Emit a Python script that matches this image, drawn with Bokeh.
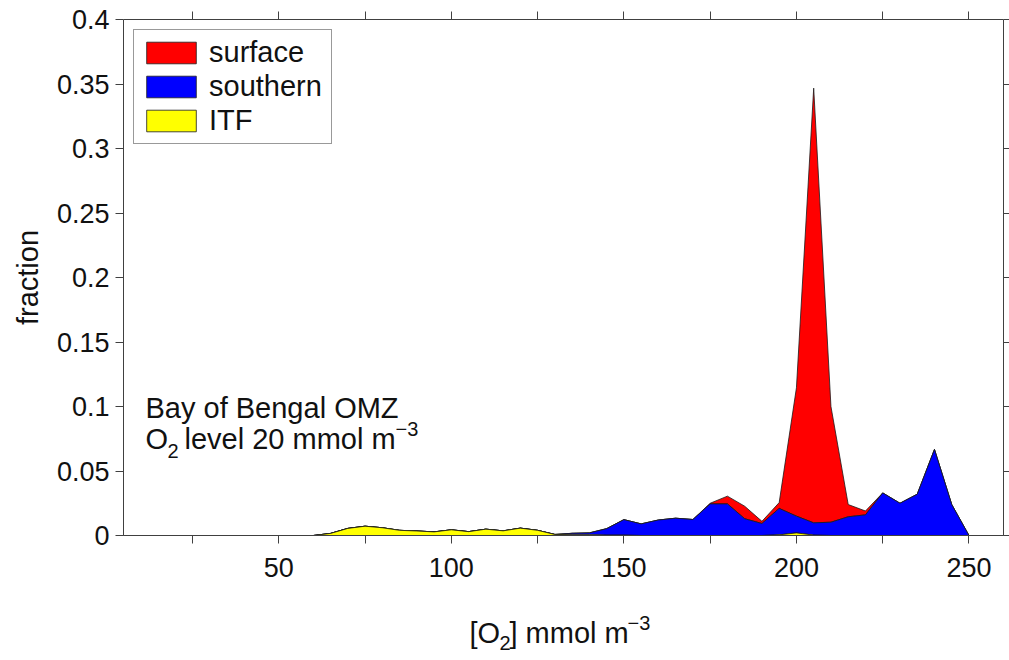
import numpy as np
from bokeh.plotting import figure
from bokeh.layouts import column
from bokeh.models import (Range1d, FixedTicker, LinearAxis, Legend, LegendItem, Label)
from bokeh.core.properties import value
from bokeh.embed import file_html
from bokeh.resources import INLINE

# ---------------- data ----------------
o2_bins = [5, 10, 15, 20, 25, 30, 35, 40, 45, 50, 55, 60, 65, 70, 75, 80, 85, 90,
           95, 100, 105, 110, 115, 120, 125, 130, 135, 140, 145, 150, 155, 160,
           165, 170, 175, 180, 185, 190, 195, 200, 205, 210, 215, 220, 225, 230,
           235, 240, 245, 250, 255, 260]

itf = [0, 0, 0, 0, 0, 0, 0, 0, 0, 0, 0, 0,
       0.0016, 0.0055, 0.0072, 0.006, 0.004, 0.0035, 0.0028, 0.0044, 0.003,
       0.0049, 0.0036, 0.0057, 0.004, 0.0008, 0.0005, 0.0005, 0.0003, 0.0003,
       0, 0, 0, 0, 0, 0, 0, 0,
       0.0005, 0.002, 0.0003,
       0, 0, 0, 0, 0, 0, 0, 0, 0, 0, 0]

southern = [0] * 25 + [
    0, 0.0012, 0.0015, 0.005, 0.012, 0.009, 0.012, 0.0134, 0.0124, 0.0245,
    0.0245, 0.013, 0.0093, 0.0205, 0.013, 0.0095, 0.0103, 0.0145, 0.016,
    0.033, 0.025, 0.032, 0.0667, 0.024, 0, 0, 0]

surface = [0] * 34 + [
    0.0005, 0.006, 0.0097, 0.0017, 0.0045, 0.0995, 0.337, 0.0897, 0.0095,
    0.003, 0, 0, 0, 0, 0, 0, 0, 0]

series_names = ["surface", "southern", "ITF"]
series_colors = ["#ff0000", "#0000ff", "#ffff00"]

x_ticks = [25, 50, 75, 100, 125, 150, 175, 200, 225, 250]
x_tick_labels = ["", "50", "", "100", "", "150", "", "200", "", "250"]
y_ticks = [0, 0.05, 0.1, 0.15, 0.2, 0.25, 0.3, 0.35, 0.4]
y_tick_labels = ["0", "0.05", "0.1", "0.15", "0.2", "0.25", "0.3", "0.35", "0.4"]

FONT = "Liberation Sans"
AX_COLOR = "#404040"
TXT = "#111111"

X0, X1 = 5, 260
FRAME_L, FRAME_R = 123, 1003

# ---------------- main figure ----------------
MAIN_H = 590
p = figure(width=1009, height=MAIN_H, output_backend="svg", toolbar_location=None,
           x_range=Range1d(X0, X1), y_range=Range1d(0, 0.4),
           min_border_left=FRAME_L, min_border_right=1009 - FRAME_R, min_border_top=19,
           min_border_bottom=MAIN_H - 535, background_fill_color="white",
           border_fill_color="white")
p.grid.visible = False
p.outline_line_color = None

# stacked areas
x = np.array(o2_bins, dtype=float)
lvl0 = np.zeros(len(x))
lvl1 = lvl0 + np.array(itf)
lvl2 = lvl1 + np.array(southern)
lvl3 = lvl2 + np.array(surface)

def poly(lower, upper):
    xs = np.concatenate([x, x[::-1]])
    ys = np.concatenate([upper, lower[::-1]])
    return xs, ys

renderers = {}
for name, color, lo, hi in [("surface", series_colors[0], lvl2, lvl3),
                            ("southern", series_colors[1], lvl1, lvl2),
                            ("ITF", series_colors[2], lvl0, lvl1)]:
    xs, ys = poly(lo, hi)
    renderers[name] = p.patch(xs, ys, fill_color=color, line_color="#1a1a1a",
                              line_width=0.8)

# axes
def style_axis(ax, ticks, overrides, show_labels):
    ax.ticker = FixedTicker(ticks=ticks)
    ax.major_label_overrides = overrides
    ax.minor_tick_line_color = None
    ax.major_tick_in = 0
    ax.major_tick_out = 8
    ax.axis_line_color = AX_COLOR
    ax.major_tick_line_color = AX_COLOR
    ax.major_label_text_font = FONT
    ax.major_label_text_font_size = "27px" if show_labels else "0px"
    ax.major_label_text_color = TXT
    if not show_labels:
        ax.major_label_standoff = 0
        ax.axis_label_standoff = 0

xo = {t: l for t, l in zip(x_ticks, x_tick_labels)}
yo = {t: l for t, l in zip(y_ticks, y_tick_labels)}
style_axis(p.xaxis[0], x_ticks, xo, True)
style_axis(p.yaxis[0], y_ticks, yo, True)
p.xaxis[0].major_label_standoff = 14
p.yaxis[0].major_label_standoff = 6
p.yaxis[0].axis_label = "fraction"
p.yaxis[0].axis_label_text_font = FONT
p.yaxis[0].axis_label_text_font_size = "29px"
p.yaxis[0].axis_label_text_font_style = "normal"
p.yaxis[0].axis_label_text_color = TXT
p.yaxis[0].axis_label_standoff = 10

top_ax = LinearAxis()
style_axis(top_ax, x_ticks, {t: "" for t in x_ticks}, False)
p.add_layout(top_ax, "above")
right_ax = LinearAxis()
style_axis(right_ax, y_ticks, {t: "" for t in y_ticks}, False)
right_ax.major_tick_out = 6
p.add_layout(right_ax, "right")

# legend
legend = Legend(items=[LegendItem(label=n, renderers=[renderers[n]]) for n in series_names],
                location="top_left", margin=10, padding=6, spacing=1,
                glyph_width=62, glyph_height=27, label_height=27, label_width=116,
                label_standoff=7, label_text_font=FONT, label_text_font_size="29px",
                label_text_color=TXT, border_line_color="#333333",
                border_line_width=1, background_fill_alpha=1.0)
p.add_layout(legend)

# pixel -> data helpers (frame spans FRAME_L..FRAME_R, y 19..535)
def px2x(px):
    return X0 + (px - FRAME_L) * (X1 - X0) / (FRAME_R - FRAME_L)

def py2y(py):
    return (535 - py) / 1290.0

def lab(text, px, py, size="29px"):
    p.add_layout(Label(x=px2x(px), y=py2y(py), text=text, text_font=FONT,
                       text_font_size=size, text_color=TXT,
                       text_baseline="alphabetic", text_align="left"))

lab("Bay of Bengal OMZ", 145, 407)
lab("O", 145, 438)
lab("2", 167, 450, "20px")
lab("level 20 mmol m", 184, 438)
lab("\u22123", 395, 428, "20px")

# ---------------- x-axis title strip (frame aligned with main plot) ----------------
STRIP_H = 660 - MAIN_H
q = figure(width=1009, height=STRIP_H, output_backend="svg", toolbar_location=None,
           x_range=Range1d(X0, X1), y_range=Range1d(STRIP_H, 0),
           min_border_left=FRAME_L, min_border_right=1009 - FRAME_R,
           min_border_top=0, min_border_bottom=0,
           x_axis_location=None, y_axis_location=None,
           background_fill_color="white", border_fill_color="white")
q.grid.visible = False
q.outline_line_color = None

def qtxt(text, px, py, size="29px"):
    q.text(x=[px2x(px)], y=[py], text=[text], text_font=value(FONT),
           text_font_size=value(size), text_color=TXT,
           text_baseline="alphabetic", text_align="left")

# vertical positions within the strip
qtxt("[O", 469, 42)
qtxt("2", 499, 52, "20px")
qtxt("] mmol m", 509, 42)
qtxt("\u22123", 627, 32, "20px")

layout = column(p, q, spacing=0)
open("out.html", "w").write(file_html(layout, INLINE))
